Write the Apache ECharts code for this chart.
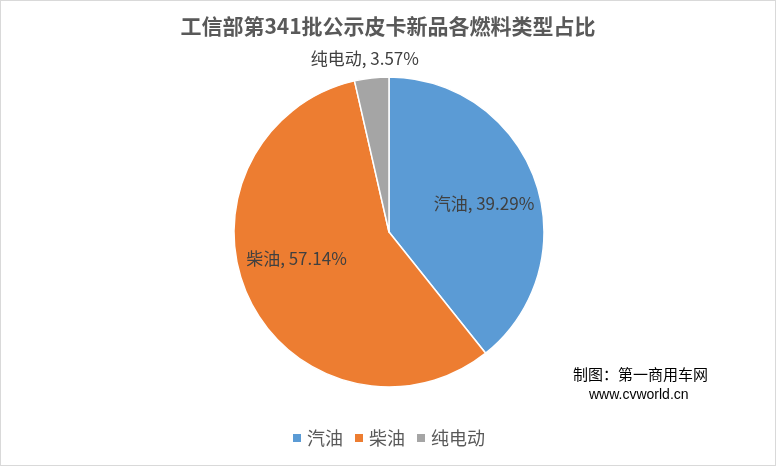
<!DOCTYPE html>
<html><head><meta charset="utf-8">
<script src="https://cdn.jsdelivr.net/npm/echarts@6/dist/echarts.min.js"></script>
<style>html,body{margin:0;padding:0;background:#fff}#c{width:776px;height:466px;box-sizing:border-box;border:1px solid #d9d9d9}</style>
</head><body><div id="c"></div>
<script>
const categories = ['汽油', '柴油', '纯电动'];
const values = [11, 16, 1];
const percentLabels = ['39.29%', '57.14%', '3.57%'];
const colors = ['#5B9BD5', '#ED7D31', '#A5A5A5'];

const chart = echarts.init(document.getElementById('c'));
const font = '"Noto Sans CJK SC", "Noto Sans", sans-serif';
const labelCfg = [
  {position: 'inside', offset: [19, -2]},
  {position: 'inside', offset: [-20, -8]},
  {position: 'outside', offset: [84, -5]}
];
chart.setOption({
  animation: false,
  title: {text: '工信部第341批公示皮卡新品各燃料类型占比', left: 'center', top: 10,
    textStyle: {fontFamily: font, fontSize: 21, fontWeight: 'bold', color: '#595959'}},
  legend: {bottom: 13, left: 'center', itemWidth: 10, itemHeight: 10, itemGap: 10,
    icon: 'rect', textStyle: {fontFamily: font, fontSize: 18, color: '#595959'},
    data: categories},
  graphic: [
    {type: 'text', left: 572, top: 366, style: {text: '制图：第一商用车网', font: '15px ' + font, fill: '#000'}},
    {type: 'text', left: 588, top: 387, style: {text: 'www.cvworld.cn', font: '14px "Liberation Sans", sans-serif', fill: '#000'}}
  ],
  series: [{
    type: 'pie', center: [388, 231], radius: 155, startAngle: 90, clockwise: true,
    itemStyle: {borderColor: '#fff', borderWidth: 1.5},
    labelLine: {show: false},
    data: categories.map((c, i) => ({
      name: c, value: values[i], itemStyle: {color: colors[i]},
      label: Object.assign({show: true, formatter: c + ', ' + percentLabels[i],
        fontFamily: font, fontSize: 17, color: '#404040'}, labelCfg[i])
    }))
  }]
});
</script></body></html>
